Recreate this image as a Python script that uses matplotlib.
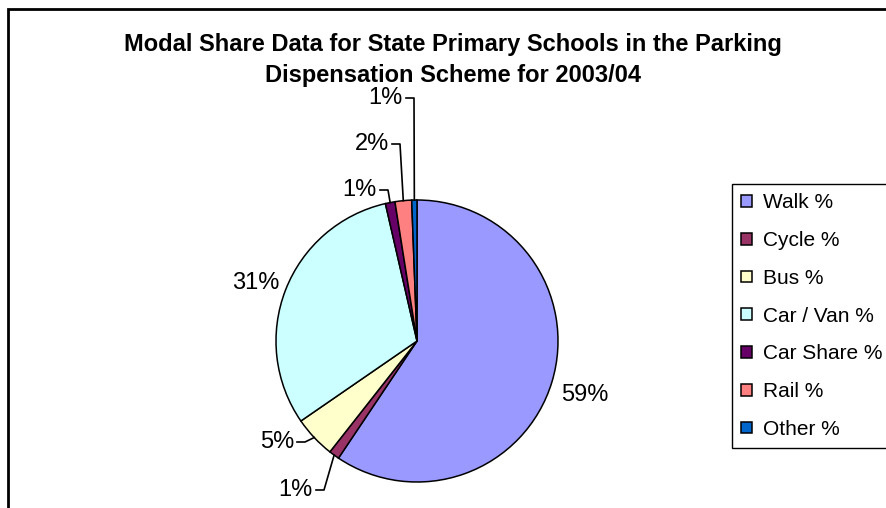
import numpy as np
import matplotlib
matplotlib.use("Agg")
import matplotlib.pyplot as plt
from matplotlib.patches import Rectangle

plt.rcParams['font.family'] = ['Liberation Sans', 'DejaVu Sans']

# data
modes = ["Walk %", "Cycle %", "Bus %", "Car / Van %", "Car Share %", "Rail %", "Other %"]
shares = [59.4, 1.2, 4.8, 31.0, 1.1, 1.9, 0.6]
colours = ["#9999FF", "#993366", "#FFFFCC", "#CCFFFF", "#660066", "#FF8080", "#0066CC"]
title = "Modal Share Data for State Primary Schools in the Parking\nDispensation Scheme for 2003/04"

W, H = 887, 508
cx, cy, R = 417, 341, 141   # pie centre / radius in pixels

# label layout in pixels: (x, y, ha, leader line?)
label_pos = [(585, 395, "center", False),
             (313, 490, "right", True),
             (294, 442, "right", True),
             (256, 283, "center", False),
             (377, 190, "right", True),
             (389, 144, "right", True),
             (403, 98, "right", True)]

def px(x, y):
    return (x - cx) / R, (cy - y) / R

fig = plt.figure(figsize=(W / 100, H / 100), dpi=100)
ax = fig.add_axes([0, 0, 1, 1])

wedges, _ = ax.pie(shares, colors=colours, startangle=90, counterclock=False,
                   wedgeprops=dict(edgecolor="black", linewidth=1.1))
ax.set_xlim(-cx / R, (W - cx) / R)
ax.set_ylim(-(H - cy) / R, cy / R)
ax.axis("off")

total = sum(shares)
cum = np.cumsum([0] + shares)
for i, v in enumerate(shares):
    mid = (cum[i] + v / 2) / total * 2 * np.pi
    ex, ey = np.sin(mid), np.cos(mid)
    lx, ly, ha, leader = label_pos[i]
    tx, ty = px(lx, ly)
    ax.text(tx, ty, "%.0f%%" % (v / total * 100), ha=ha, va="center", fontsize=17)
    if leader:
        x0 = tx + 3 / R
        x1 = tx + 11 / R
        ax.plot([x0, x1, ex], [ty, ty, ey], color="black", linewidth=1.2)

fig.text(453 / W, 1 - 60 / H, title, ha="center", va="center", fontsize=17,
         fontweight="bold", linespacing=1.45)

leg = fig.legend(wedges, modes, loc="upper left", bbox_to_anchor=(732 / W, 1 - 184 / H),
                 borderaxespad=0, fontsize=15, handlelength=0.5, handleheight=0.5,
                 handletextpad=0.55, labelspacing=0.9, borderpad=0.45,
                 fancybox=False, framealpha=1)
leg.get_frame().set_edgecolor("black")
leg.get_frame().set_linewidth(1.0)

fig.patches.append(Rectangle((8.5 / W, -0.5), 2, 1.5 - 8.5 / H, transform=fig.transFigure,
                             fill=False, edgecolor="black", linewidth=2))

plt.savefig("out.png", dpi=100)
